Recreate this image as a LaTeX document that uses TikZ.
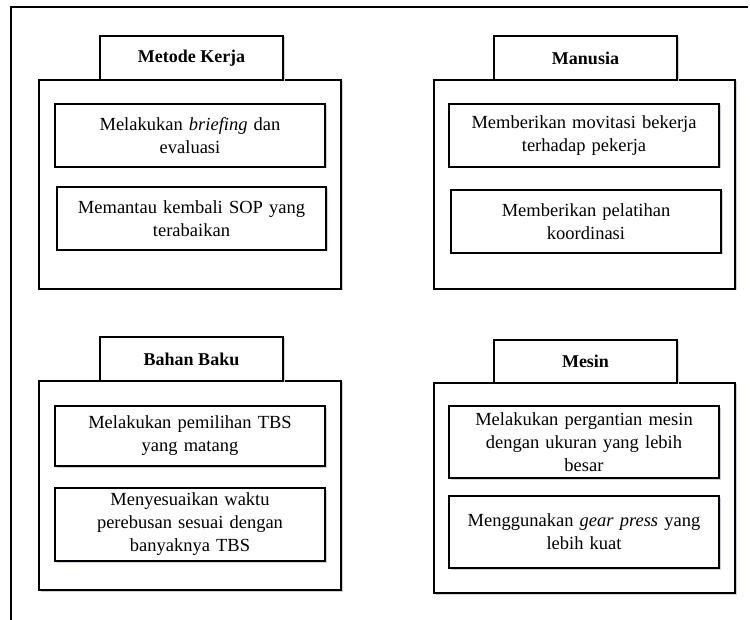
\documentclass[tikz,border=0pt]{standalone}
\usepackage{fontspec}
\setmainfont{Liberation Serif}
\usetikzlibrary{shadows}
\begin{document}
\begin{tikzpicture}[x=1pt,y=-1pt,
  shade/.style={general shadow={fill=blue!25!gray!30, shadow xshift=1.5pt, shadow yshift=-1.5pt}},
  box/.style={draw=black, line width=1.1pt, fill=white, shade, inner sep=0pt},
  headbox/.style={box, minimum width=183pt, minimum height=44pt, font=\fontsize{18}{22}\selectfont\bfseries},
  groupbox/.style={box, minimum width=302pt, minimum height=209pt},
  itembox/.style={box, minimum width=270pt, text width=266pt, align=center, font=\fontsize{18.5}{23}\selectfont},
  frame/.style={line width=1.1pt}]
\useasboundingbox (0,0) rectangle (750,620);
\draw[frame] (11,620) -- (11,7) -- (748,7);

% Metode Kerja
\node[groupbox] (g1) at (190,184.5) {};
\node[headbox] (h1) at (191.5,58) {Metode Kerja};
\node[itembox, minimum height=63pt] (a1) at (190,135.5) {Melakukan \emph{briefing} dan\\evaluasi};
\node[itembox, minimum height=63pt, minimum width=269pt] (a2) at (191.5,218.5) {Memantau kembali SOP yang\\terabaikan};

% Manusia
\node[groupbox, minimum width=301pt] (g2) at (584.5,184.5) {};
\node[headbox] (h2) at (585.5,58) {Manusia};
\node[itembox, minimum height=63pt] (b1) at (584,135.5) {Memberikan movitasi bekerja\\terhadap pekerja};
\node[itembox, minimum height=63pt] (b2) at (586,221.5) {Memberikan pelatihan\\koordinasi};

% Bahan Baku
\node[groupbox] (g3) at (190,485.5) {};
\node[headbox] (h3) at (191.5,359) {Bahan Baku};
\node[itembox, minimum height=60pt] (c1) at (190,436) {Melakukan pemilihan TBS\\yang matang};
\node[itembox, minimum height=73pt] (c2) at (190,524.5) {Menyesuaikan waktu\\perebusan sesuai dengan\\banyaknya TBS};

% Mesin
\node[groupbox, minimum width=301pt, minimum height=210pt] (g4) at (584.5,488) {};
\node[headbox, minimum height=43pt] (h4) at (585.5,361.5) {Mesin};
\node[itembox, minimum height=72pt] (d1) at (584,442) {Melakukan pergantian mesin\\dengan ukuran yang lebih\\besar};
\node[itembox, minimum height=72pt] (d2) at (584,532) {Menggunakan \emph{gear press} yang\\lebih kuat};
\end{tikzpicture}
\end{document}
